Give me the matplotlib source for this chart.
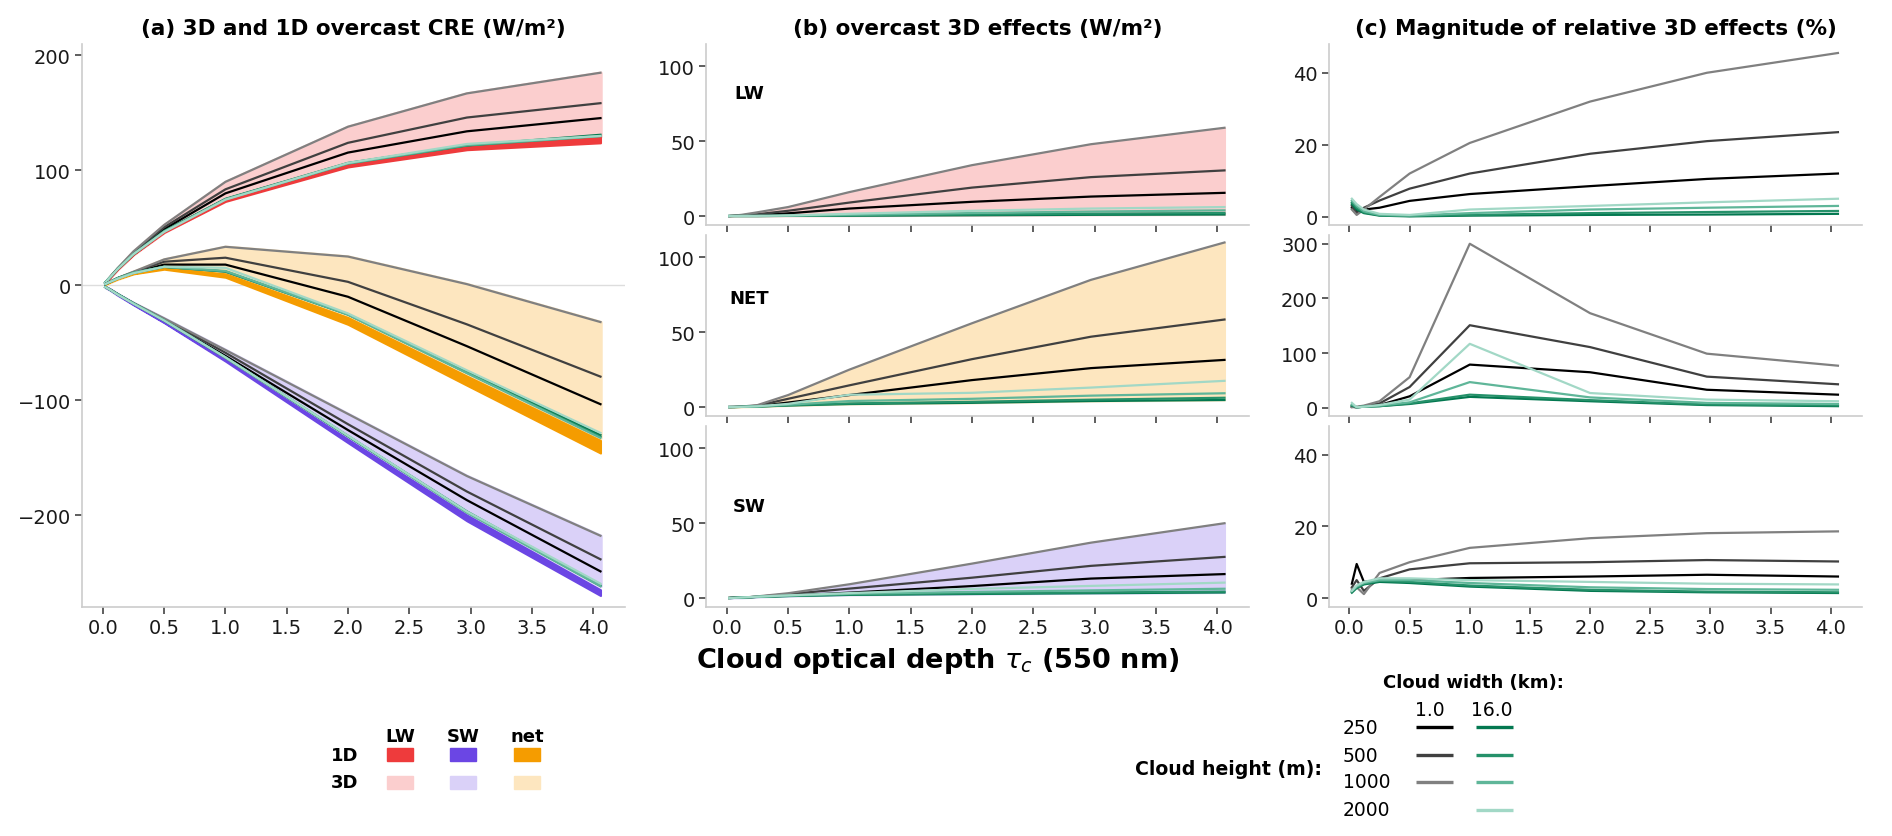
import matplotlib
import numpy as np
from matplotlib import pyplot as plt
from matplotlib.colors import to_rgb
from matplotlib.patches import Rectangle

matplotlib.use("Agg")

# cloud optical depth at 550 nm
TAU = [0.02, 0.06, 0.12, 0.25, 0.5, 1.0, 2.0, 2.97, 4.06]

HEIGHTS = [250, 500, 1000, 2000]
CASES = [(250, 1.0), (500, 1.0), (1000, 1.0),
         (250, 16.0), (500, 16.0), (1000, 16.0), (2000, 16.0)]

# 1D overcast CRE (W/m2) per cloud height
LW_1D = {
    250: [2.5, 7, 14, 27, 47, 75, 106, 121, 130],
    500: [2.5, 7, 14, 27, 47, 74.5, 105, 120, 128],
    1000: [2.5, 7, 14, 27, 46.5, 74, 104, 119, 126],
    2000: [2.5, 7, 14, 27, 46, 73, 103, 118, 124],
}
SW_1D = {
    250: [-1.5, -4, -8, -16.5, -32, -65, -134, -200, -265],
    500: [-1.5, -4, -8, -16.5, -32, -65, -134.5, -201, -266],
    1000: [-1.5, -4, -8, -16.5, -32, -65.5, -135, -203, -268],
    2000: [-1.5, -4, -8.5, -17, -32.5, -66, -137, -205, -270],
}
NET_1D = {
    250: [1, 3, 6, 10.5, 15, 10, -28, -79, -135],
    500: [1, 3, 6, 10.5, 15, 9.5, -29, -81, -138],
    1000: [1, 3, 6, 10.5, 14.5, 8.5, -31, -84, -142],
    2000: [1, 3, 5.5, 10, 14, 7, -34, -87, -146],
}

# overcast 3D effects (3D - 1D, W/m2) per (height m, width km)
LW_EFF = {
    (250, 1.0): [0, 0.1, 0.3, 0.6, 1.8, 5, 9.5, 13, 15.5],
    (500, 1.0): [0, 0.2, 0.5, 1.2, 3.5, 9, 19, 26, 30.5],
    (1000, 1.0): [0, 0.3, 0.8, 2.5, 6, 16, 34, 48, 59],
    (250, 16.0): [0, 0, 0, 0, 0.1, 0.2, 0.5, 0.8, 1],
    (500, 16.0): [0, 0, 0, 0, 0.1, 0.4, 1, 1.6, 2],
    (1000, 16.0): [0, 0, 0, 0, 0.2, 0.8, 2, 3, 3.8],
    (2000, 16.0): [0, 0, 0, 0.1, 0.4, 1.5, 3.5, 5, 6],
}
SW_EFF = {
    (250, 1.0): [0.1, 0.4, 0.4, 0.8, 1.6, 3.6, 8, 13, 16],
    (500, 1.0): [0, 0.2, 0.2, 0.9, 2.6, 6.3, 13.6, 21.5, 27.5],
    (1000, 1.0): [0, 0.1, 0.1, 1.1, 3.2, 9.2, 23, 37, 50],
    (250, 16.0): [0, 0.1, 0.3, 0.7, 1.3, 2.1, 2.7, 3.2, 3.7],
    (500, 16.0): [0, 0.1, 0.3, 0.8, 1.4, 2.3, 3.1, 3.7, 4.3],
    (1000, 16.0): [0, 0.1, 0.3, 0.8, 1.6, 2.8, 4.1, 5.1, 6.2],
    (2000, 16.0): [0, 0.1, 0.4, 0.9, 1.8, 3.3, 6.1, 8.1, 10.3],
}
NET_EFF = {
    (250, 1.0): [0, 0.05, 0.15, 0.6, 3, 8, 18, 26, 31.5],
    (500, 1.0): [0, 0.05, 0.2, 0.9, 5.5, 14.5, 32, 47, 58.5],
    (1000, 1.0): [0, 0.05, 0.3, 1.3, 8, 25, 56, 85, 110],
    (250, 16.0): [0, 0, 0.1, 0.3, 1, 2, 2.8, 4, 4.7],
    (500, 16.0): [0, 0, 0.1, 0.3, 1.2, 2.4, 3.5, 4.9, 6.2],
    (1000, 16.0): [0, 0, 0.1, 0.4, 1.5, 4, 5.5, 7.6, 9.2],
    (2000, 16.0): [0, 0, 0.1, 0.5, 2.1, 8.2, 9.5, 13, 17.5],
}

# magnitude of relative 3D effects (%)
LW_REL = {
    (250, 1.0): [2.5, 1.5, 2, 2.5, 4.4, 6.3, 8.5, 10.5, 12],
    (500, 1.0): [3, 1, 2.5, 4.5, 7.8, 12, 17.5, 21, 23.5],
    (1000, 1.0): [2, 0.5, 2, 5.5, 12, 20.5, 32, 40, 45.5],
    (250, 16.0): [3.5, 2, 1, 0.3, 0.1, 0.3, 0.5, 0.6, 0.8],
    (500, 16.0): [4, 2.5, 1.2, 0.4, 0.2, 0.5, 1, 1.3, 1.6],
    (1000, 16.0): [4.5, 3, 1.5, 0.5, 0.3, 1, 2, 2.5, 3],
    (2000, 16.0): [5, 3.5, 2, 0.8, 0.5, 2, 3, 4, 5],
}
NET_REL = {
    (250, 1.0): [2, 1, 2, 5, 21, 79, 65, 33, 24],
    (500, 1.0): [2, 1, 3, 8, 38, 151, 111, 57, 43],
    (1000, 1.0): [1, 2, 4, 12, 56, 300, 173, 99, 77],
    (250, 16.0): [4, 1, 2, 3, 7, 20, 12, 5, 3],
    (500, 16.0): [5, 1, 2, 3, 8, 24, 14, 6, 4.5],
    (1000, 16.0): [6, 1, 2, 4, 10, 47, 19, 9, 7],
    (2000, 16.0): [9, 1, 2, 5, 15, 117, 27, 15, 12],
}
SW_REL = {
    (250, 1.0): [4, 9.5, 4.5, 5, 5, 5.6, 6, 6.5, 6],
    (500, 1.0): [3, 5, 2, 5.5, 8, 9.7, 10, 10.6, 10.2],
    (1000, 1.0): [2.5, 3, 1.1, 7, 10, 14, 16.7, 18.1, 18.6],
    (250, 16.0): [1.5, 2.8, 3.8, 4.5, 4.2, 3.2, 2, 1.6, 1.4],
    (500, 16.0): [1.8, 3, 4, 4.8, 4.5, 3.5, 2.3, 1.8, 1.6],
    (1000, 16.0): [2, 3.2, 4.2, 5, 5, 4.2, 3, 2.5, 2.3],
    (2000, 16.0): [2, 3.5, 4.5, 5.5, 5.5, 5, 4.5, 4, 3.8],
}

COLOR_1D = {"LW": "#ee3b3c", "SW": "#6b46e4", "NET": "#f59c00"}
LINE_COLORS = {
    (250, 1.0): "#000000", (500, 1.0): "#404040", (1000, 1.0): "#808080",
    (250, 16.0): "#037850", (500, 16.0): "#25916a", (1000, 16.0): "#5fb699",
    (2000, 16.0): "#a2d8c6",
}

W, H = 1892, 837
XLIM = (-0.17, 4.26)
SPINE = "#cccccc"


def light(color, alpha=0.25):
    rgb = np.array(to_rgb(color))
    return tuple(1 - alpha * (1 - rgb))


def px_axes(fig, left, top, right, bottom):
    return fig.add_axes([left / W, 1 - bottom / H, (right - left) / W, (bottom - top) / H])


def style(ax, labels=True):
    for side in ("top", "right"):
        ax.spines[side].set_visible(False)
    for side in ("left", "bottom"):
        ax.spines[side].set_color(SPINE)
        ax.spines[side].set_linewidth(1.2)
    ax.tick_params(length=5, width=1.1, color="#333333", labelsize=14, pad=3,
                   labelcolor="#1a1a1a", labelbottom=labels)
    ax.set_xlim(*XLIM)
    ax.set_xticks(np.arange(0, 4.01, 0.5))


def plot_cre(ax, one_d, effect, comp):
    tau = np.array(TAU)
    three_d = {c: np.array(one_d[c[0]]) + np.array(effect[c]) for c in CASES}
    stack = np.array(list(three_d.values()))
    band = np.array([one_d[h] for h in HEIGHTS])
    lc = light(COLOR_1D[comp])
    ax.fill_between(tau, stack.min(0), stack.max(0), facecolor=lc, edgecolor=lc, lw=2.5, zorder=1)
    ax.fill_between(tau, band.min(0), band.max(0), facecolor=COLOR_1D[comp],
                    edgecolor=COLOR_1D[comp], lw=1.5, zorder=2)
    for c in CASES:
        ax.plot(tau, three_d[c], color=LINE_COLORS[c], lw=1.6, zorder=3)


def plot_effect(ax, effect, comp):
    tau = np.array(TAU)
    stack = np.array([effect[c] for c in CASES])
    lc = light(COLOR_1D[comp])
    ax.fill_between(tau, stack.min(0), stack.max(0), facecolor=lc, edgecolor=lc, lw=1.5, zorder=1)
    for c in CASES:
        ax.plot(tau, effect[c], color=LINE_COLORS[c], lw=1.6, zorder=3)


def plot_rel(ax, rel):
    for c in CASES:
        ax.plot(TAU, rel[c], color=LINE_COLORS[c], lw=1.6)


fig = plt.figure(figsize=(W / 100, H / 100), dpi=100)

# (a)
ax_a = px_axes(fig, 82, 45, 625, 608)
ax_a.axhline(0, color="#dddddd", lw=1, zorder=0)
plot_cre(ax_a, LW_1D, LW_EFF, "LW")
plot_cre(ax_a, NET_1D, NET_EFF, "NET")
plot_cre(ax_a, SW_1D, SW_EFF, "SW")
style(ax_a)
ax_a.set_ylim(-280, 210)
ax_a.set_yticks([-200, -100, 0, 100, 200])

rows = [(45, 226), (236, 417), (427, 608)]

# (b)
b_specs = [("LW", LW_EFF, 0.73), ("NET", NET_EFF, 0.65), ("SW", SW_EFF, 0.56)]
for i, (comp, eff, ty) in enumerate(b_specs):
    ax = px_axes(fig, 706, rows[i][0], 1249, rows[i][1])
    plot_effect(ax, eff, comp)
    style(ax, labels=(i == 2))
    ax.set_ylim(-6, 115)
    ax.set_yticks([0, 50, 100])
    ax.text(0.08, ty, comp, transform=ax.transAxes, ha="center", va="center",
            fontsize=13, fontweight="bold")

# (c)
c_specs = [(LW_REL, (-2.3, 48), [0, 20, 40]),
           (NET_REL, (-15, 316), [0, 100, 200, 300]),
           (SW_REL, (-2.5, 48), [0, 20, 40])]
for i, (rel, ylim, yt) in enumerate(c_specs):
    ax = px_axes(fig, 1329, rows[i][0], 1862, rows[i][1])
    plot_rel(ax, rel)
    style(ax, labels=(i == 2))
    ax.set_ylim(*ylim)
    ax.set_yticks(yt)

title_kw = dict(ha="center", va="center", fontsize=15.5, fontweight="bold")
fig.text((82 + 625) / 2 / W, 1 - 29 / H, "(a) 3D and 1D overcast CRE (W/m²)", **title_kw)
fig.text((706 + 1249) / 2 / W, 1 - 29 / H, "(b) overcast 3D effects (W/m²)", **title_kw)
fig.text((1329 + 1862) / 2 / W, 1 - 29 / H, "(c) Magnitude of relative 3D effects (%)", **title_kw)
fig.text(938 / W, 1 - 661 / H, r"Cloud optical depth $\tau_c$ (550 nm)",
         ha="center", va="center", fontsize=19.5, fontweight="bold")

# legends, drawn in pixel coordinates
leg = fig.add_axes([0, 0, 1, 1])
leg.set_xlim(0, W)
leg.set_ylim(H, 0)
leg.axis("off")

bold = dict(fontsize=13, fontweight="bold", va="center")
for x, name, comp in [(400, "LW", "LW"), (463, "SW", "SW"), (527, "net", "NET")]:
    leg.text(x, 737, name, ha="center", **bold)
    leg.add_patch(Rectangle((x - 13, 749), 26, 13, color=COLOR_1D[comp]))
    leg.add_patch(Rectangle((x - 13, 777), 26, 13, color=light(COLOR_1D[comp])))
leg.text(358, 756, "1D", ha="right", **bold)
leg.text(358, 783, "3D", ha="right", **bold)

leg.text(1383, 683, "Cloud width (km):", ha="left", **bold)
leg.text(1322, 770, "Cloud height (m):", ha="right", fontsize=13.6, fontweight="bold", va="center")
leg.text(1430, 710, "1.0", ha="center", va="center", fontsize=13.5)
leg.text(1492, 710, "16.0", ha="center", va="center", fontsize=13.5)
row_y = {250: 728, 500: 756, 1000: 783, 2000: 811}
for h, y in row_y.items():
    leg.text(1343, y, str(h), ha="left", va="center", fontsize=13.5)
for (h, w), col in LINE_COLORS.items():
    x0 = 1416 if w == 1.0 else 1476
    leg.plot([x0, x0 + 37], [row_y[h], row_y[h]], color=col, lw=2.4, solid_capstyle="butt")

fig.savefig("out.png", dpi=100)
